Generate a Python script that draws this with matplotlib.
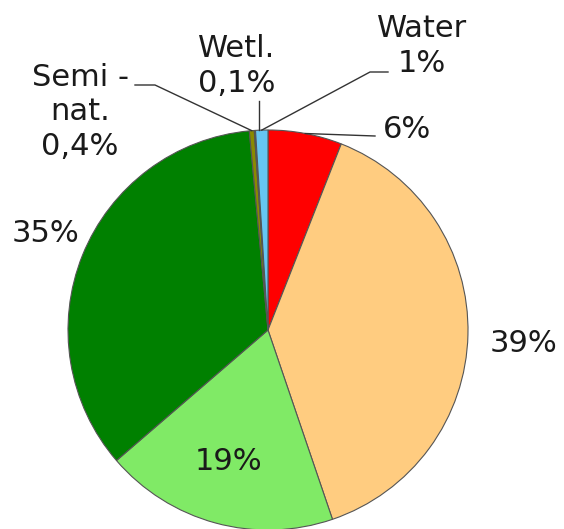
import numpy as np
import matplotlib
matplotlib.use("Agg")
import matplotlib.pyplot as plt

# land use shares, clockwise from 12 o'clock
categories = ["Urban", "Agri", "Pasture", "Forest", "Semi-nat.", "Wetl.", "Water"]
values = [6, 39, 19, 35, 0.4, 0.1, 1]
labels = ["6%", "39%", "19%", "35%", "Semi -\nnat.\n0,4%", "Wetl.\n0,1%", "Water\n1%"]
colors = ["#FF0000", "#FFCC80", "#80EA66", "#008000", "#8A8A00", "#3A5A80", "#66C6F2"]

W, H = 564, 529
CX, CY, R = 268, 330, 200  # pie centre / radius in pixels


def px(x, y):
    # pixel (from top-left) -> data coords
    return (x - CX) / R, (CY - y) / R


fig = plt.figure(figsize=(W / 100, H / 100), dpi=100)
ax = fig.add_axes([0, 0, 1, 1])

wedges, _ = ax.pie(values, colors=colors, startangle=90, counterclock=False,
                   radius=1.0, wedgeprops=dict(edgecolor="#555555", linewidth=0.8))

ax.set_aspect("auto")
ax.set_xlim(-CX / R, (W - CX) / R)
ax.set_ylim(-(H - CY) / R, CY / R)
ax.axis("off")

fs = 22
txt = dict(fontsize=fs, family="DejaVu Sans", color="#1a1a1a",
           ha="center", va="center", linespacing=1.25)

# label positions (pixels) and optional leader elbow points
label_pos = {
    0: (407, 130),
    1: (523, 343),
    2: (228, 461),
    3: (45, 233),
    4: (80, 112),
    5: (237, 66),
    6: (422, 46),
}
leaders = {
    0: [(375, 136)],
    4: [(155, 85), (135, 85)],
    5: [(259, 101)],
    6: [(370, 72), (388, 72)],
}

for i, w in enumerate(wedges):
    x, y = px(*label_pos[i])
    ax.text(x, y, labels[i], **txt)
    if i in leaders:
        mid = np.deg2rad((w.theta1 + w.theta2) / 2)
        sx, sy = np.cos(mid), np.sin(mid)
        if i == 5:
            sx = px(259, 0)[0]
            sy = np.sqrt(1 - sx ** 2)
        pts = [(sx, sy)] + [px(*p) for p in leaders[i]]
        xs, ys = zip(*pts)
        ax.plot(xs, ys, color="#333333", linewidth=1.0)

fig.savefig("out.png", dpi=100)
